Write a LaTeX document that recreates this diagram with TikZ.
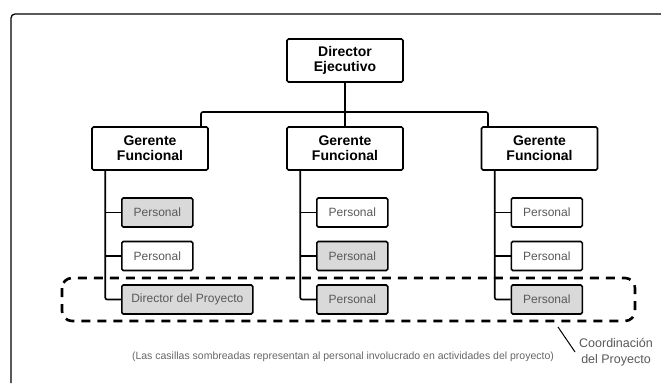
\documentclass[tikz,border=0pt]{standalone}
\usepackage{fontspec}
\setmainfont{Liberation Sans}
\usetikzlibrary{positioning}

\begin{document}
\begin{tikzpicture}[x=1pt,y=-1pt,line width=1.6pt,
      jefe/.style={draw, rounded corners=1.5pt, minimum width=116pt, minimum height=43pt,
        align=center, font=\fontsize{14}{15}\selectfont\bfseries},
      pers/.style={draw, rounded corners=1.5pt, anchor=west, minimum width=71pt, minimum height=29pt,
        text=black!65, font=\fontsize{12}{14}\selectfont},
      somb/.style={pers, fill=black!15}
      ]
      \useasboundingbox (0,0) rectangle (661,383);
      \draw[line width=1.3pt, rounded corners=4pt] (11,383) -- (11,14) -- (661,14);

      \node[jefe] (d) at (345,60.5) {Director\\Ejecutivo};
      \node[jefe] (g1) at (150,148.5) {Gerente\\Funcional};
      \node[jefe] (g2) at (345,148.5) {Gerente\\Funcional};
      \node[jefe] (g3) at (539.5,148.5) {Gerente\\Funcional};

      \coordinate (bus) at (345,112);
      \draw[rounded corners=2pt] ([xshift=51pt]g1.north) |- (bus) -| ([xshift=-51.5pt]g3.north);
      \draw (d) -- (g2);

      % personal de cada gerente
      \node[somb] (p11) at (121,212.5) {Personal};
      \node[pers] (p12) at (121,256) {Personal};
      \node[somb, minimum width=131pt] (p13) at (121,299.5) {Director del Proyecto};
      \node[pers] (p21) at (316,212.5) {Personal};
      \node[somb] (p22) at (316,256) {Personal};
      \node[somb] (p23) at (316,299.5) {Personal};
      \node[pers] (p31) at (510.5,212.5) {Personal};
      \node[pers] (p32) at (510.5,256) {Personal};
      \node[somb] (p33) at (510.5,299.5) {Personal};

      \foreach \c in {1,2,3} {
        \coordinate (s\c) at ([xshift=14pt]g\c.south west);
        \draw[rounded corners=2pt] (s\c) |- (p\c3.west);
        \draw (p\c1.west) -- (p\c1.west -| s\c);
        \draw (p\c2.west) -- (p\c2.west -| s\c);
      }

      % coordinacion
      \draw[line width=2.6pt, dash pattern=on 9pt off 7pt, rounded corners=10pt]
        (62,278) rectangle (635,321);
      \node[align=center, text=black!65, font=\fontsize{12.5}{15.5}\selectfont] (cp) at (616,352)
        {Coordinación\\del Proyecto};
      \coordinate (cb) at (558,327);
      \draw[line width=1pt] (cb) -- (cp.west);

      \node[text=black!60, font=\fontsize{10.5}{12}\selectfont] (nota) at (343,357)
        {(Las casillas sombreadas representan al personal involucrado en actividades del proyecto)};
    \end{tikzpicture}
\end{document}
